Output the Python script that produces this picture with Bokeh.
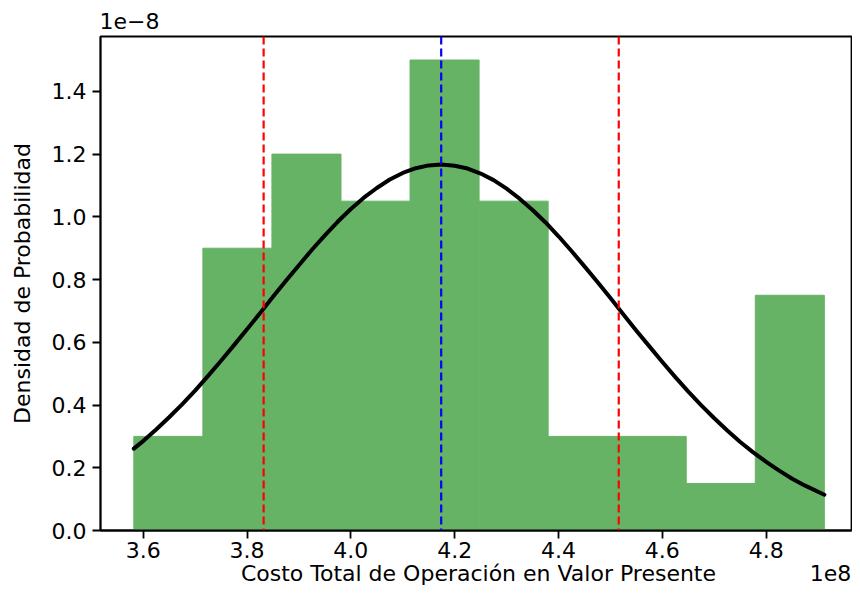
from bokeh.plotting import figure
from bokeh.models import Range1d, FixedTicker, Span, LinearAxis, PrintfTickFormatter
from bokeh.embed import file_html
from bokeh.resources import INLINE

# ---- data (x in units of 1e8, density in units of 1e-8) ----
bin_edges = [3.582, 3.715, 3.848, 3.981, 4.114, 4.247, 4.380, 4.513, 4.646, 4.779, 4.912]
density = [0.30, 0.90, 1.20, 1.05, 1.50, 1.05, 0.30, 0.30, 0.15, 0.75]

curve_x = [3.582, 3.60, 3.625, 3.65, 3.675, 3.70, 3.725, 3.75, 3.775, 3.80,
           3.825, 3.85, 3.875, 3.90, 3.925, 3.95, 3.975, 4.00, 4.025, 4.05,
           4.075, 4.10, 4.125, 4.15, 4.174, 4.20, 4.225, 4.25, 4.275, 4.30,
           4.325, 4.35, 4.375, 4.40, 4.425, 4.45, 4.475, 4.50, 4.525, 4.55,
           4.575, 4.60, 4.625, 4.65, 4.675, 4.70, 4.725, 4.75, 4.775, 4.80,
           4.825, 4.85, 4.875, 4.912]
curve_y = [0.261, 0.285, 0.322, 0.361, 0.402, 0.446, 0.493, 0.541, 0.591, 0.642,
           0.693, 0.745, 0.796, 0.846, 0.895, 0.941, 0.985, 1.025, 1.061, 1.092,
           1.119, 1.140, 1.155, 1.164, 1.167, 1.163, 1.154, 1.138, 1.117, 1.090,
           1.058, 1.022, 0.982, 0.938, 0.891, 0.842, 0.792, 0.741, 0.689, 0.637,
           0.587, 0.537, 0.489, 0.443, 0.399, 0.358, 0.319, 0.282, 0.249, 0.219,
           0.191, 0.165, 0.143, 0.114]

mean_line = 4.174
sd_lines = [3.832, 4.516]

x_ticks = [3.6, 3.8, 4.0, 4.2, 4.4, 4.6, 4.8]
y_ticks = [0.0, 0.2, 0.4, 0.6, 0.8, 1.0, 1.2, 1.4]

x_label = "Costo Total de Operación en Valor Presente"
y_label = "Densidad de Probabilidad"
x_offset_text = "1e8"
y_offset_text = "1e\u22128"

# layout constants (where the extra texts sit, in x data units)
X_LABEL_POS = 4.2458
X_OFFSET_POS = 4.9238
Y_OFFSET_POS = 3.5736

FONT = "DejaVu Sans"
FS = "22px"
GREEN = "#66b366"

p = figure(width=852, height=593, output_backend="svg", toolbar_location=None,
           x_range=Range1d(3.5178, 4.9643), y_range=Range1d(0, 1.575),
           min_border_left=100, min_border_right=1, min_border_top=36, min_border_bottom=63)

p.quad(left=bin_edges[:-1], right=bin_edges[1:], bottom=0, top=density,
       fill_color=GREEN, fill_alpha=1.0, line_color=GREEN, line_width=1)

p.line(curve_x, curve_y, line_color="black", line_width=4, line_join="round", line_cap="round")

for loc in sd_lines:
    p.add_layout(Span(location=loc, dimension="height", line_color="red",
                      line_dash="8 4", line_width=2.2))
p.add_layout(Span(location=mean_line, dimension="height", line_color="blue",
                  line_dash="8 4", line_width=2.2))

p.grid.visible = False
p.outline_line_color = "black"
p.outline_line_width = 1.8
p.outline_line_alpha = 1.0
p.title.visible = False

for ax in (p.xaxis[0], p.yaxis[0]):
    ax.axis_line_width = 1.8
    ax.axis_line_color = "black"
    ax.major_tick_line_width = 1.8
    ax.major_tick_line_color = "black"
    ax.major_tick_out = 8
    ax.major_tick_in = 0
    ax.minor_tick_line_color = None
    ax.major_label_text_font = FONT
    ax.major_label_text_font_size = FS
    ax.major_label_text_color = "black"
    ax.formatter = PrintfTickFormatter(format="%.1f")

p.xaxis[0].ticker = FixedTicker(ticks=x_ticks)
p.yaxis[0].ticker = FixedTicker(ticks=y_ticks)
p.xaxis[0].major_label_standoff = 3
p.yaxis[0].major_label_standoff = 6

p.yaxis[0].axis_label = y_label
p.yaxis[0].axis_label_text_font = FONT
p.yaxis[0].axis_label_text_font_size = FS
p.yaxis[0].axis_label_text_font_style = "normal"
p.yaxis[0].axis_label_text_color = "black"
p.yaxis[0].axis_label_standoff = 14


def text_axis(ticks, overrides, standoff):
    return LinearAxis(
        ticker=FixedTicker(ticks=ticks), major_label_overrides=overrides,
        axis_line_color=None, major_tick_line_color=None, minor_tick_line_color=None,
        major_tick_out=0, major_tick_in=0, major_label_standoff=standoff,
        major_label_text_font=FONT, major_label_text_font_size=FS,
        major_label_text_color="black",
    )


# second row below the x axis: axis title and the 1e8 offset text
p.add_layout(text_axis([X_LABEL_POS, X_OFFSET_POS],
                       {X_LABEL_POS: x_label, X_OFFSET_POS: x_offset_text}, 0), "below")
# 1e-8 offset text above the top-left corner
p.add_layout(text_axis([Y_OFFSET_POS], {Y_OFFSET_POS: y_offset_text}, 8), "above")

open("out.html", "w").write(file_html(p, INLINE))
